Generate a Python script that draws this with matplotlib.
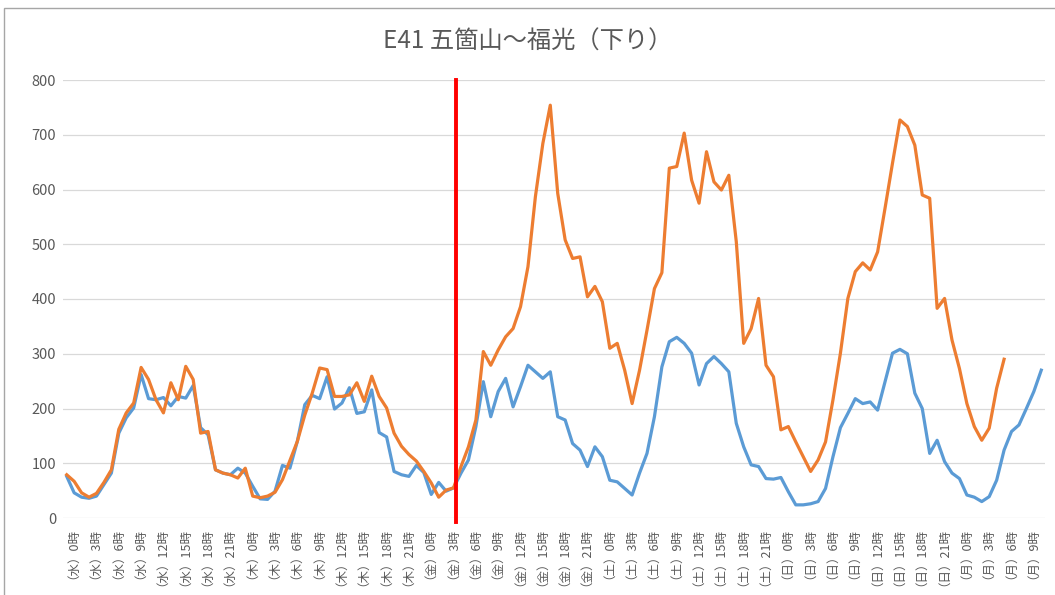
import matplotlib
matplotlib.use("Agg")
import matplotlib.pyplot as plt
from matplotlib.patches import Rectangle

plt.rcParams['font.family'] = ['Noto Sans CJK JP', 'DejaVu Sans']

TITLE = "E41 五箇山～福光（下り）"

# hourly traffic, Wed 0h .. Mon 11h (blue) / Mon 6h (orange)
blue = [
    76, 46, 38, 36, 40, 61, 82, 155, 183, 201,
    262, 218, 216, 220, 205, 222, 219, 242, 165, 152,
    88, 82, 79, 91, 82, 58, 35, 34, 49, 96,
    91, 140, 207, 224, 218, 258, 199, 210, 238, 191,
    194, 234, 156, 148, 85, 79, 76, 96, 83, 43,
    65, 49, 55, 82, 106, 167, 249, 185, 231, 255,
    203, 240, 279, 267, 255, 267, 185, 179, 136, 124,
    94, 130, 112, 69, 66, 54, 42, 82, 118, 185,
    276, 322, 330, 319, 301, 243, 282, 295, 282, 267,
    173, 130, 97, 94, 72, 71, 74, 48, 24, 24,
    26, 30, 54, 112, 165, 191, 218, 209, 212, 197,
    249, 301, 308, 300, 228, 200, 118, 142, 103, 82,
    72, 42, 38, 30, 39, 69, 124, 158, 170, 200,
    231, 270,
]

orange = [
    79, 67, 46, 38, 45, 65, 88, 162, 192, 210,
    275, 253, 216, 192, 247, 216, 277, 253, 155, 158,
    88, 82, 79, 73, 91, 40, 37, 40, 47, 70,
    105, 140, 188, 228, 274, 271, 222, 222, 225, 247,
    213, 259, 222, 201, 155, 131, 116, 104, 85, 64,
    38, 51, 55, 94, 130, 179, 304, 279, 307, 331,
    346, 386, 459, 587, 684, 754, 593, 508, 474, 477,
    404, 423, 395, 310, 319, 270, 209, 270, 343, 419,
    448, 639, 642, 703, 617, 575, 669, 614, 599, 626,
    505, 319, 346, 401, 279, 258, 161, 167, 139, 112,
    85, 106, 139, 216, 301, 401, 450, 466, 453, 486,
    566, 648, 727, 715, 681, 590, 584, 383, 401, 325,
    273, 209, 167, 142, 164, 237, 290,
]

days = ["水", "木", "金", "土", "日", "月"]
label_hours = [0, 3, 6, 9, 12, 15, 18, 21]
last_label_hour = 129   # (月)9時

# position of the red marker line (in hours from Wed 0h)
marker_hour = 52.3

GRAY = "#595959"


def make_labels():
    pos, labels = [], []
    for d, day in enumerate(days):
        for h in label_hours:
            x = d * 24 + h
            if x > last_label_hour:
                break
            pos.append(x)
            labels.append(f"（{day}）{h}時")
    return pos, labels


def generate_chart():
    fig = plt.figure(figsize=(10.55, 5.95), dpi=100)
    ax = fig.add_axes([63 / 1055, 1 - 518 / 595, 982 / 1055, 438 / 595])

    ax.plot(range(len(blue)), blue, color="#5B9BD5", lw=2.3, solid_joinstyle="round")
    ax.plot(range(len(orange)), orange, color="#ED7D31", lw=2.3, solid_joinstyle="round")
    ax.axvline(marker_hour, ymin=-0.01, ymax=1, color="#FF0000", lw=2.8, clip_on=False, zorder=5)

    ax.set_xlim(-0.5, len(blue) - 0.5)
    ax.set_ylim(0, 800)
    ax.set_yticks(range(0, 801, 100))
    pos, labels = make_labels()
    ax.set_xticks(pos)
    ax.set_xticklabels(labels, rotation=90, ha="center", va="top", fontsize=9, color=GRAY)
    ax.tick_params(axis="x", length=0, pad=3)
    ax.tick_params(axis="y", length=0, pad=5, labelsize=10.5, labelcolor=GRAY)

    ax.grid(axis="y", color="#d9d9d9", lw=0.9)
    ax.set_axisbelow(True)
    for s in ax.spines.values():
        s.set_visible(False)

    fig.text(0.5, 1 - 42 / 595, TITLE, ha="center", va="center", fontsize=17.5, color=GRAY)

    # chart area border
    fig.patches.append(Rectangle((4 / 1055, -0.1), 2, 1.1 - 8 / 595, transform=fig.transFigure,
                                 fill=False, edgecolor="#a6a6a6", lw=1))

    fig.savefig("out.png", dpi=100)
    plt.close(fig)


generate_chart()
